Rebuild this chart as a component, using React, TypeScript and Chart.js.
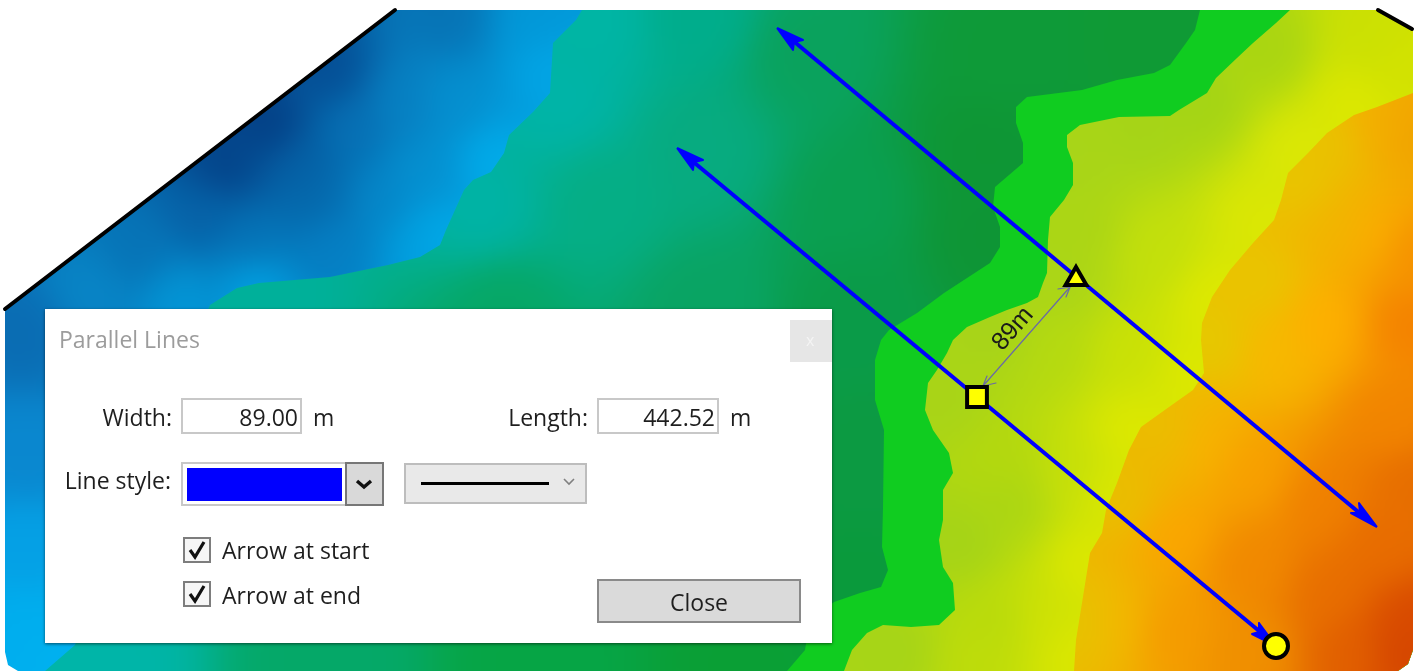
import React, { useEffect, useRef } from "react";
import { Chart, registerables } from "chart.js";

Chart.register(...registerables);

type P = [number, number];
type C = [number, number, string];

const W = 1417;
const H = 671;

// Map outline and class boundaries (map units, same frame as the picture)
const mapOutline: P[] = [[5,309],[395,10],[1378,10],[1413,30],[1413,650],[1408,664],[1398,671],[18,671],[8,665],[5,652]];
const cornersFromBottom: P[] = [[1398,671],[1408,664],[1413,650]];
const cornersToTop: P[] = [[1413,30],[1378,10]];

const tealEdge: P[] = [[582,10],[576,20],[553,43],[550,93],[533,112],[509,135],[504,153],[491,172],[473,180],[464,190],[455,210],[446,230],[440,245],[420,257],[388,265],[330,277],[259,283],[237,288],[210,305],[75,645],[45,671]];
const greenEdge: P[] = [[1200,10],[1195,30],[1186,43],[1170,65],[1154,73],[1117,80],[1082,90],[1027,97],[1016,107],[1016,123],[1023,143],[1023,163],[995,187],[993,207],[1000,227],[1000,247],[990,263],[944,293],[917,313],[889,330],[881,340],[875,360],[875,400],[884,430],[883,507],[882,547],[888,570],[881,587],[860,593],[834,602],[810,620],[805,650],[787,671]];
const limeEdge: P[] = [[1290,10],[1276,23],[1253,43],[1237,58],[1216,78],[1207,93],[1179,110],[1170,116],[1119,117],[1080,125],[1067,135],[1067,147],[1073,163],[1073,185],[1064,200],[1050,217],[1048,240],[1047,273],[1043,283],[1038,297],[1027,303],[1007,310],[990,317],[967,327],[953,340],[947,353],[937,370],[928,383],[925,410],[933,430],[949,453],[953,473],[943,490],[943,520],[939,540],[943,567],[953,583],[955,610],[939,625],[911,627],[883,625],[867,633],[852,650],[844,671]];
const orangeEdge: P[] = [[1413,93],[1377,107],[1354,115],[1327,133],[1308,153],[1288,173],[1281,200],[1274,220],[1253,243],[1230,270],[1212,297],[1202,323],[1201,340],[1204,373],[1193,390],[1169,407],[1141,427],[1129,450],[1117,483],[1106,510],[1102,533],[1090,553],[1082,603],[1076,640],[1074,671]];

// Sampled colours inside each class
const blueColours: C[] = [[270,125,"#043a80"],[225,165,"#043f85"],[330,70,"#054b92"],[446,17,"#0672b4"],[535,17,"#0298d8"],[549,67,"#02a6e6"],[402,100,"#0780c2"],[350,130,"#0670b5"],[300,165,"#0560a5"],[450,100,"#0590d0"],[420,170,"#0590d0"],[380,200,"#0586c8"],[312,200,"#0566a9"],[200,217,"#0660a6"],[250,240,"#0670b4"],[330,240,"#0580c5"],[420,240,"#00a0e0"],[134,250,"#0672b5"],[90,290,"#0886c7"],[178,297,"#0398d8"],[254,282,"#00a8e8"],[490,160,"#00aeec"],[440,235,"#00aeec"],[25,330,"#0a6bb2"],[25,450,"#0a87cf"],[25,550,"#05a0e5"],[25,620,"#00aeee"],[60,650,"#00b1ef"]];
const tealColours: C[] = [[590,20,"#00b5a5"],[560,100,"#00b4a8"],[480,210,"#00b3a6"],[250,300,"#00b09a"],[600,200,"#05ae85"],[700,17,"#00ad8c"],[800,50,"#0aa25c"],[1000,50,"#0e9a38"],[1150,40,"#0f9a35"],[700,150,"#07ab80"],[850,200,"#0a9f50"],[980,150,"#0e9634"],[985,235,"#0e9535"],[850,305,"#0a9b48"],[700,305,"#09a463"],[500,305,"#06a765"],[860,450,"#0c9a42"],[860,590,"#0a9a3c"],[100,662,"#00b5a8"],[321,663,"#05a868"],[535,663,"#06a545"],[750,663,"#0a9f35"]];
const limeColours: C[] = [[1075,160,"#a8d518"],[1140,125,"#a5d418"],[1200,100,"#a3d415"],[1270,50,"#a8d512"],[1370,40,"#cae003"],[1400,60,"#d3e200"],[1350,100,"#dde800"],[1300,150,"#dce805"],[1260,220,"#dbe704"],[1215,300,"#dfe900"],[1150,250,"#c3e00b"],[1080,230,"#aad515"],[1060,280,"#a9d518"],[1000,330,"#a5d31a"],[945,400,"#a8d418"],[1050,350,"#b5da10"],[1130,350,"#c9e106"],[1190,370,"#dde800"],[1130,430,"#dee900"],[1010,500,"#a8d514"],[960,540,"#a3d318"],[1000,460,"#b3d80e"],[1070,470,"#c4df0a"],[1110,490,"#dce800"],[1085,560,"#dde800"],[1070,650,"#dde800"],[1000,620,"#b6da0c"],[900,650,"#a5d418"],[970,660,"#bedc0a"],[1040,620,"#d0e204"]];
const orangeColours: C[] = [[1405,133,"#f0a000"],[1380,125,"#f5b000"],[1330,140,"#e8c400"],[1300,180,"#e8c600"],[1340,220,"#f0b500"],[1370,230,"#fcae00"],[1410,250,"#f58e00"],[1260,280,"#e8c600"],[1320,320,"#ffb000"],[1405,320,"#f48000"],[1215,340,"#e4ca00"],[1270,350,"#f8b800"],[1390,420,"#f28500"],[1410,480,"#e66c00"],[1170,430,"#e8c000"],[1200,440,"#fab000"],[1250,470,"#f8a000"],[1320,500,"#f08000"],[1380,540,"#e86c00"],[1125,500,"#e8c000"],[1170,530,"#fca500"],[1250,560,"#f18800"],[1330,590,"#e86e00"],[1410,620,"#d84800"],[1400,650,"#d34200"],[1090,620,"#e0c800"],[1110,620,"#f8b400"],[1170,630,"#f59a00"],[1250,650,"#f09000"],[1350,650,"#e26000"]];
const greenColour = "#10cc20";

// Drawn objects
const boundaryLines: P[][] = [[[5,309],[395,10]],[[1378,10],[1412,29]]];
const upperLine: P[] = [[785,34],[1368,520]];
const lowerLine: P[] = [[685,155],[1270,640]];
const arrowHeads: P[][] = [
  [[777,28],[803,40],[794,42],[793,50]],
  [[1377,527],[1359,503],[1360,513],[1351,513]],
  [[677,148],[703,160],[694,162],[693,170]],
  [[1276,646],[1259,623],[1259,632],[1252,634]],
];
const widthLine: P[] = [[983,386],[1070,287]];
const widthHeads: P[][] = [[[987,376],[983,386],[996,383]],[[1058,289],[1070,287],[1066,297]]];
const widthLabel = { text: "89m", x: 1013, y: 329, angle: -49 };
const squareMarker: P[] = [[977,397]];
const triangleMarker: P[] = [[1076,279]];
const circleMarker: P[] = [[1276,646]];

const toXY = (a: P[]) => a.map(([x, y]) => ({ x, y }));

function field(samples: C[]): HTMLCanvasElement {
  const step = 4;
  const margin = 32;
  const w = Math.ceil((W + 2 * margin) / step);
  const h = Math.ceil((H + 2 * margin) / step);
  const small = document.createElement("canvas");
  small.width = w;
  small.height = h;
  const sctx = small.getContext("2d")!;
  const img = sctx.createImageData(w, h);
  const pts = samples.map(([x, y, c]) => [x, y, parseInt(c.slice(1, 3), 16), parseInt(c.slice(3, 5), 16), parseInt(c.slice(5, 7), 16)]);
  for (let j = 0; j < h; j++) {
    for (let i = 0; i < w; i++) {
      const px = i * step - margin;
      const py = j * step - margin;
      let sw = 0, r = 0, g = 0, b = 0;
      for (const p of pts) {
        const d2 = (p[0] - px) ** 2 + (p[1] - py) ** 2 + 1600;
        const wt = 1 / (d2 * d2);
        sw += wt; r += p[2] * wt; g += p[3] * wt; b += p[4] * wt;
      }
      const k = (j * w + i) * 4;
      img.data[k] = r / sw;
      img.data[k + 1] = g / sw;
      img.data[k + 2] = b / sw;
      img.data[k + 3] = 255;
    }
  }
  sctx.putImageData(img, 0, 0);
  const big = document.createElement("canvas");
  big.width = W;
  big.height = H;
  const bctx = big.getContext("2d")!;
  bctx.imageSmoothingEnabled = true;
  bctx.imageSmoothingQuality = "high";
  bctx.filter = "blur(6px)";
  bctx.drawImage(small, -margin, -margin, w * step, h * step);
  return big;
}

const labelPlugin = {
  id: "widthLabel",
  afterDatasetsDraw(chart: any) {
    const { ctx, scales } = chart;
    ctx.save();
    ctx.translate(scales.x.getPixelForValue(widthLabel.x), scales.y.getPixelForValue(widthLabel.y));
    ctx.rotate((widthLabel.angle * Math.PI) / 180);
    ctx.font = '25px "Liberation Sans"';
    ctx.fillStyle = "#1a1a1a";
    ctx.textAlign = "center";
    ctx.textBaseline = "middle";
    ctx.fillText(widthLabel.text, 0, 0);
    ctx.restore();
  },
};

const FONT = '"Open Sans", "Noto Sans", sans-serif';

function Txt(props: { x?: number; right?: number; cy: number; size?: number; color?: string; children: string }) {
  const { x, right, cy, size = 23, color = "#1e1e1e", children } = props;
  const style: React.CSSProperties = {
    position: "absolute",
    top: cy,
    transform: "translateY(-50%)",
    fontFamily: FONT,
    fontSize: size,
    lineHeight: 1,
    color,
    whiteSpace: "nowrap",
  };
  if (x !== undefined) style.left = x;
  if (right !== undefined) style.right = W - right;
  return <div style={style}>{children}</div>;
}

function Box(props: { x: number; y: number; x2: number; y2: number; bg?: string; border?: string; bw?: number; children?: React.ReactNode }) {
  const { x, y, x2, y2, bg = "#fff", border = "#c8c8c8", bw = 2, children } = props;
  return (
    <div
      style={{
        position: "absolute",
        left: x,
        top: y,
        width: x2 - x,
        height: y2 - y,
        boxSizing: "border-box",
        background: bg,
        border: border === "none" ? "none" : `${bw}px solid ${border}`,
      }}
    >
      {children}
    </div>
  );
}

function Check(props: { y: number; y2: number }) {
  const { y, y2 } = props;
  return (
    <Box x={183} y={y} x2={211} y2={y2} bg="#f6f6f6" border="#7d7d7d">
      <svg width="24" height="22" style={{ position: "absolute", left: 0, top: 0 }}>
        <path d="M5 11 L10 18 L19 3" fill="none" stroke="#111" strokeWidth="3.2" />
      </svg>
    </Box>
  );
}

export default function App() {
  const ref = useRef<HTMLCanvasElement>(null);
  useEffect(() => {
    const canvas = ref.current!;
    const ctx = canvas.getContext("2d")!;
    const pattern = (s: C[]) => ctx.createPattern(field(s), "no-repeat")!;
    const band = (data: P[], bg: any) => ({
      data: toXY(data),
      showLine: true,
      fill: "shape",
      backgroundColor: bg,
      borderWidth: 0,
      pointRadius: 0,
      tension: 0,
    });
    const stroke = (data: P[], color: string, width: number) => ({
      data: toXY(data),
      showLine: true,
      fill: false,
      borderColor: color,
      borderWidth: width,
      borderCapStyle: "round",
      borderJoinStyle: "miter",
      pointRadius: 0,
      tension: 0,
    });
    const head = (data: P[]) => ({
      data: toXY([...data, data[0]]),
      showLine: true,
      fill: "shape",
      backgroundColor: "#0000ff",
      borderColor: "#0000ff",
      borderWidth: 2,
      borderJoinStyle: "round",
      pointRadius: 0,
      tension: 0,
    });
    const marker = (data: P[], style: string, radius: number) => ({
      data: toXY(data),
      showLine: false,
      pointStyle: style,
      pointRadius: radius,
      pointBackgroundColor: "#ffff00",
      pointBorderColor: "#000000",
      pointBorderWidth: 4,
    });
    const list: any[] = [
      band(mapOutline, pattern(blueColours)),
      band([...tealEdge, ...cornersFromBottom, ...cornersToTop], pattern(tealColours)),
      band([...greenEdge, ...cornersFromBottom, ...cornersToTop], greenColour),
      band([...limeEdge, ...cornersFromBottom, ...cornersToTop], pattern(limeColours)),
      band([...orangeEdge, ...cornersFromBottom], pattern(orangeColours)),
      ...boundaryLines.map((l) => stroke(l, "#000000", 4)),
      stroke(upperLine, "#0000ff", 4),
      stroke(lowerLine, "#0000ff", 4),
      ...arrowHeads.map((l) => head(l)),
      stroke(widthLine, "#6a6aa6", 1.2),
      ...widthHeads.map((l) => stroke(l, "#6a6aa6", 1.2)),
      marker(squareMarker, "rect", 14),
      marker(triangleMarker, "triangle", 12),
      marker(circleMarker, "circle", 12),
    ];
    list.forEach((d, i) => (d.order = list.length - i));
    const chart = new Chart(canvas, {
      type: "scatter",
      data: { datasets: list },
      options: {
        animation: false,
        responsive: false,
        layout: { padding: 0, autoPadding: false },
        events: [],
        scales: {
          x: { type: "linear", min: 0, max: W, display: false },
          y: { type: "linear", min: 0, max: H, reverse: true, display: false },
        },
        plugins: { legend: { display: false }, tooltip: { enabled: false }, title: { display: false } },
      } as any,
      plugins: [labelPlugin],
    });
    return () => chart.destroy();
  }, []);

  return (
    <div style={{ position: "fixed", left: 0, top: 0, width: W, height: H, background: "#fff", overflow: "hidden", filter: "blur(0.4px)" }}>
      <canvas ref={ref} width={W} height={H} style={{ position: "absolute", left: 0, top: 0, width: W, height: H }} />
      <div
        style={{
          position: "absolute",
          left: 45,
          top: 309,
          width: 787,
          height: 334,
          background: "#fff",
          boxShadow: "0 1px 3px rgba(0,0,0,0.55)",
        }}
      />
      <Txt x={59} cy={339} color="#9c9c9c">Parallel Lines</Txt>
      <Box x={790} y={320} x2={832} y2={362} bg="#e6e6e6" border="none" />
      <Txt x={806} cy={340} size={16} color="#f4f4f4">x</Txt>

      <Txt right={172} cy={417}>Width:</Txt>
      <Box x={181} y={398} x2={302} y2={434} />
      <Txt right={298} cy={417}>89.00</Txt>
      <Txt x={313} cy={417}>m</Txt>

      <Txt right={588} cy={417}>Length:</Txt>
      <Box x={597} y={398} x2={719} y2={434} />
      <Txt right={715} cy={417}>442.52</Txt>
      <Txt x={730} cy={417}>m</Txt>

      <Txt right={171} cy={480}>Line style:</Txt>
      <Box x={181} y={462} x2={384} y2={506} />
      <Box x={187} y={468} x2={342} y2={501} bg="#0000ff" border="none" />
      <Box x={345} y={462} x2={384} y2={506} bg="#d9d9d9" border="#777777" />
      <svg width="20" height="12" style={{ position: "absolute", left: 355, top: 479 }}>
        <path d="M2 2 L9 8 L16 2" fill="none" stroke="#111" strokeWidth="3.4" />
      </svg>
      <Box x={404} y={463} x2={587} y2={504} bg="#e9e9e9" border="#bdbdbd" />
      <Box x={421} y={482} x2={549} y2={485} bg="#000" border="none" />
      <svg width="14" height="10" style={{ position: "absolute", left: 562, top: 477 }}>
        <path d="M2 2 L7 7 L12 2" fill="none" stroke="#808080" strokeWidth="1.6" />
      </svg>

      <Check y={537} y2={563} />
      <Txt x={222} cy={550}>Arrow at start</Txt>
      <Check y={581} y2={607} />
      <Txt x={222} cy={595}>Arrow at end</Txt>

      <Box x={597} y={579} x2={801} y2={623} bg="#dadada" border="#8a8a8a" />
      <Txt x={670} cy={602}>Close</Txt>
    </div>
  );
}
